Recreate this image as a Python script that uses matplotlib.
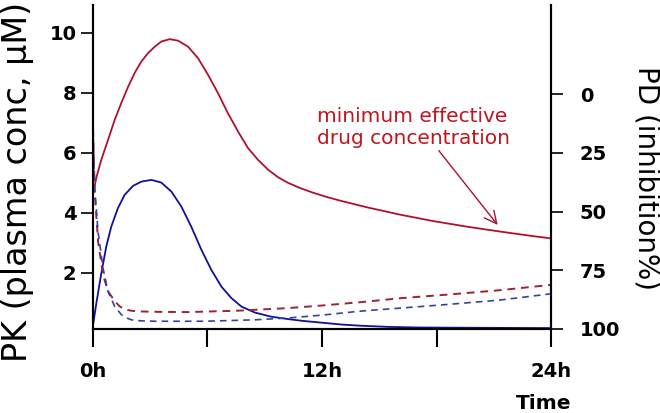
import matplotlib
matplotlib.use("Agg")
import matplotlib.pyplot as plt

# PK curves (left axis, plasma conc in uM), time in hours
pk_red_t = [0, 0.2, 0.45, 0.8, 1.15, 1.5, 1.85, 2.2, 2.54, 2.89, 3.25, 3.59, 4.03, 4.47,
            4.99, 5.51, 6.04, 6.56, 7.08, 7.61, 8.13, 8.65, 9.18, 9.7, 10.23, 10.85,
            11.5, 12.2, 13.0, 14.4, 16.1, 17.8, 19.6, 21.3, 23.0, 24.0]
pk_red = [4.6, 5.2, 5.77, 6.43, 7.1, 7.67, 8.2, 8.67, 9.04, 9.32, 9.54, 9.71, 9.79, 9.74,
          9.54, 9.16, 8.6, 7.99, 7.32, 6.71, 6.16, 5.77, 5.44, 5.19, 5.0, 4.83,
          4.68, 4.54, 4.4, 4.18, 3.94, 3.73, 3.54, 3.38, 3.23, 3.15]

pk_blue_t = [0, 0.19, 0.45, 0.71, 0.97, 1.32, 1.67, 2.11, 2.54, 3.07, 3.59, 4.12, 4.64,
             5.16, 5.69, 6.21, 6.74, 7.26, 7.78, 8.48, 9.35, 10.23, 11.0, 12.0, 13.0,
             14.0, 15.5, 17.0, 20.0, 24.0]
pk_blue = [0.2, 0.99, 1.99, 2.88, 3.54, 4.16, 4.6, 4.9, 5.04, 5.1, 5.01, 4.71, 4.21,
           3.54, 2.77, 2.1, 1.54, 1.16, 0.88, 0.68, 0.54, 0.46, 0.4, 0.34, 0.28,
           0.24, 0.2, 0.18, 0.17, 0.16]

# PD curves (right axis, inhibition %)
pd_red_t = [0, 0.1, 0.28, 0.54, 0.8, 1.15, 1.4, 1.67, 2.0, 2.37, 3.5, 4.98, 7.6, 10.23,
            12.0, 14.0, 16.1, 18.5, 21.3, 24.0]
pd_red = [9.3, 41.5, 62.7, 77.0, 83.9, 88.1, 90.3, 91.6, 92.2, 92.5, 92.7, 92.8, 92.2,
          91.1, 90.0, 88.6, 86.9, 85.4, 83.5, 81.2]

pd_blue_t = [0, 0.1, 0.28, 0.54, 0.8, 1.15, 1.5, 1.75, 2.02, 2.5, 3.25, 5.86, 8.48,
             10.23, 12.0, 14.0, 16.1, 18.5, 21.3, 24.0]
pd_blue = [9.3, 40.0, 58.6, 74.2, 84.0, 90.4, 93.9, 95.2, 96.1, 96.5, 96.7, 96.7, 96.1,
           95.3, 94.1, 92.4, 91.1, 89.6, 87.7, 85.0]

x_ticks = [0, 6, 12, 18, 24]
x_labels = ["0h", "", "12h", "", "24h"]
left_ticks = [2, 4, 6, 8, 10]
right_ticks = [0, 25, 50, 75, 100]

fig = plt.figure(figsize=(6.6, 4.13), dpi=100)
ax = fig.add_axes([0.1405, 0.2034, 0.6945, 0.7846])
ax2 = ax.twinx()

ax.plot(pk_red_t, pk_red, color="#b01030", lw=1.3)
ax.plot(pk_blue_t, pk_blue, color="#10109a", lw=1.3)
ax2.plot(pd_red_t, pd_red, color="#a02035", lw=1.4, ls=(0, (4, 3)))
ax2.plot(pd_blue_t, pd_blue, color="#34449a", lw=1.2, ls=(0, (4, 3)))

ax.set_xlim(0, 24)
ax.set_ylim(0.13, 10.93)
ax2.set_ylim(100, -38)

for a in (ax, ax2):
    a.spines["top"].set_visible(False)
    for s in a.spines.values():
        s.set_linewidth(1.5)

ax.set_xticks(x_ticks)
ax.set_xticklabels(x_labels)
ax.set_yticks(left_ticks)
ax2.set_yticks(right_ticks)

ax.tick_params(axis="x", length=13, width=1.5, pad=11, labelsize=14)
ax.tick_params(axis="y", length=8.6, width=1.2, pad=3, labelsize=14)
ax2.tick_params(axis="y", length=8.6, width=1.2, pad=12, labelsize=14)
for lab in ax.get_xticklabels() + ax.get_yticklabels() + ax2.get_yticklabels():
    lab.set_fontweight("bold")

ax.annotate("minimum effective\ndrug concentration", xy=(21.2, 3.6), xytext=(11.74, 6.85),
            color="#c0141e", fontsize=14.5, ha="left", va="center",
            arrowprops=dict(arrowstyle="->", color="#b01030", lw=1.0,
                            mutation_scale=22, shrinkA=0, shrinkB=0,
                            relpos=(0.62, 0.0)))

fig.text(0.026, 0.1235, "PK (plasma conc, \u03bcM)", rotation=90, ha="center", va="bottom",
         fontsize=24)
fig.text(0.979, 0.570, "PD (inhibition%)", rotation=270, ha="center", va="center",
         fontsize=20)
fig.text(0.823, 0.024, "Time", ha="center", va="center", fontsize=14.5, fontweight="bold")

fig.savefig("out.png", dpi=100)
